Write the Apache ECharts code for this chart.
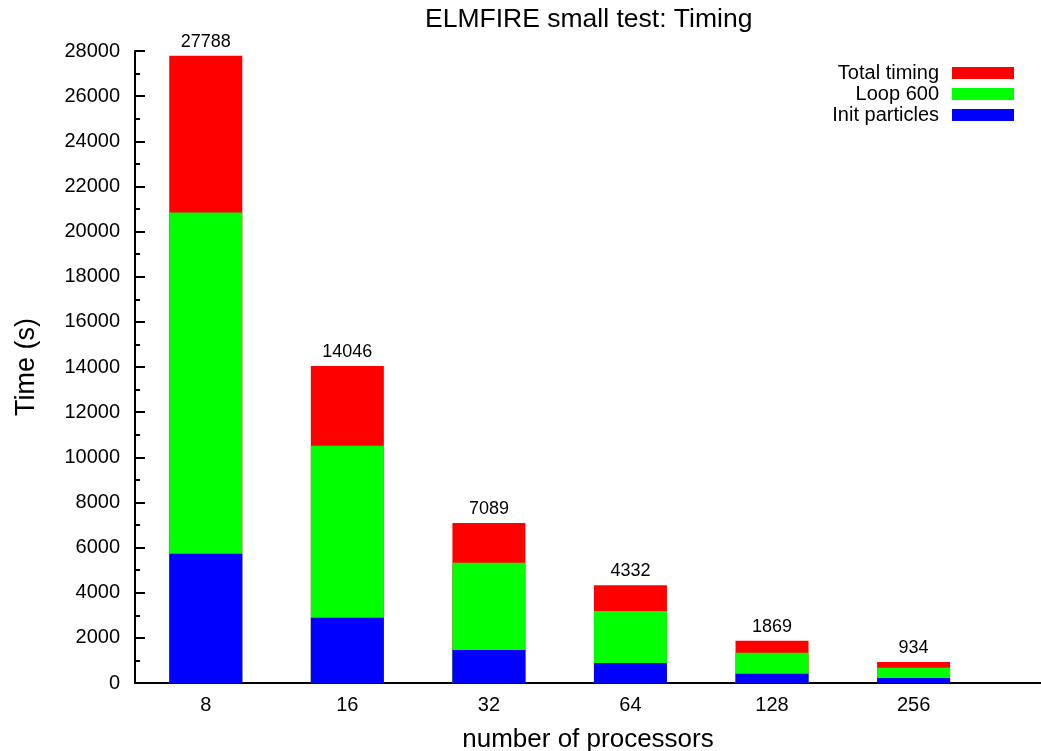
<!DOCTYPE html>
<html>
<head>
<meta charset="utf-8">
<script src="https://cdn.jsdelivr.net/npm/echarts@6/dist/echarts.min.js"></script>
<style>html,body{margin:0;padding:0;background:#fff}#c{width:1041px;height:751px}</style>
</head>
<body>
<div id="c"></div>
<script>
const categories = ['8', '16', '32', '64', '128', '256'];
const totalTiming = [27788, 14046, 7089, 4332, 1869, 934];
const loop600 = [20840, 10510, 5330, 3190, 1340, 680];
const initParticles = [5730, 2890, 1460, 890, 410, 220];
const catIndex = [0, 1, 2, 3, 4, 5];

const font = 'Liberation Sans, Arial, Helvetica, sans-serif';
const toPts = arr => arr.map((v, i) => [catIndex[i], v]);

const chart = echarts.init(document.getElementById('c'), null, {renderer: 'canvas'});
chart.setOption({
  animation: false,
  backgroundColor: '#fff',
  textStyle: {fontFamily: font},
  title: {
    text: 'ELMFIRE small test: Timing',
    left: 425, top: 6, padding: 0,
    textStyle: {fontFamily: font, fontSize: 26.5, fontWeight: 'normal', color: '#000'}
  },
  legend: {
    orient: 'vertical', right: 22, top: 58,
    align: 'right', icon: 'rect', itemWidth: 62, itemHeight: 12, itemGap: 1,
    textStyle: {fontFamily: font, fontSize: 20, color: '#000', lineHeight: 20, padding: [0, 8, 0, 0]},
    data: ['Total timing', 'Loop 600', 'Init particles']
  },
  grid: {left: 135, right: 0, top: 51, bottom: 68, containLabel: false, outerBoundsMode: 'none'},
  xAxis: {
    type: 'value', min: -0.5, max: 5.9,
    name: 'number of processors', nameLocation: 'middle', nameGap: 44,
    nameTextStyle: {fontFamily: font, fontSize: 26, color: '#000'},
    axisLine: {show: true, onZero: false, lineStyle: {color: '#000', width: 2}},
    axisTick: {show: false},
    splitLine: {show: false},
    axisLabel: {
      customValues: catIndex,
      formatter: v => categories[Math.round(v)] ?? '',
      fontFamily: font, fontSize: 20, color: '#000', margin: 12
    }
  },
  yAxis: {
    type: 'value', min: 0, max: 28000, interval: 2000,
    name: 'Time (s)', nameLocation: 'middle', nameGap: 95,
    nameTextStyle: {fontFamily: font, fontSize: 27, color: '#000'},
    axisLine: {show: true, onZero: false, lineStyle: {color: '#000', width: 2}},
    axisTick: {show: true, inside: true, length: 10, lineStyle: {color: '#000', width: 2}},
    minorTick: {show: true, splitNumber: 2, length: 5, lineStyle: {color: '#000', width: 2}},
    splitLine: {show: false},
    axisLabel: {fontFamily: font, fontSize: 20, color: '#000', margin: 15, formatter: v => String(v)}
  },
  series: [
    {
      name: 'Total timing', type: 'bar', barWidth: 73, barGap: '-100%',
      itemStyle: {color: '#ff0000'},
      label: {show: true, position: 'top', distance: 5, fontFamily: font, fontSize: 18, color: '#000',
              formatter: p => String(p.value[1])},
      data: toPts(totalTiming)
    },
    {
      name: 'Loop 600', type: 'bar', barWidth: 73, barGap: '-100%',
      itemStyle: {color: '#00ff00'},
      data: toPts(loop600)
    },
    {
      name: 'Init particles', type: 'bar', barWidth: 73, barGap: '-100%',
      itemStyle: {color: '#0000ff'},
      data: toPts(initParticles)
    }
  ]
});
</script>
</body>
</html>
